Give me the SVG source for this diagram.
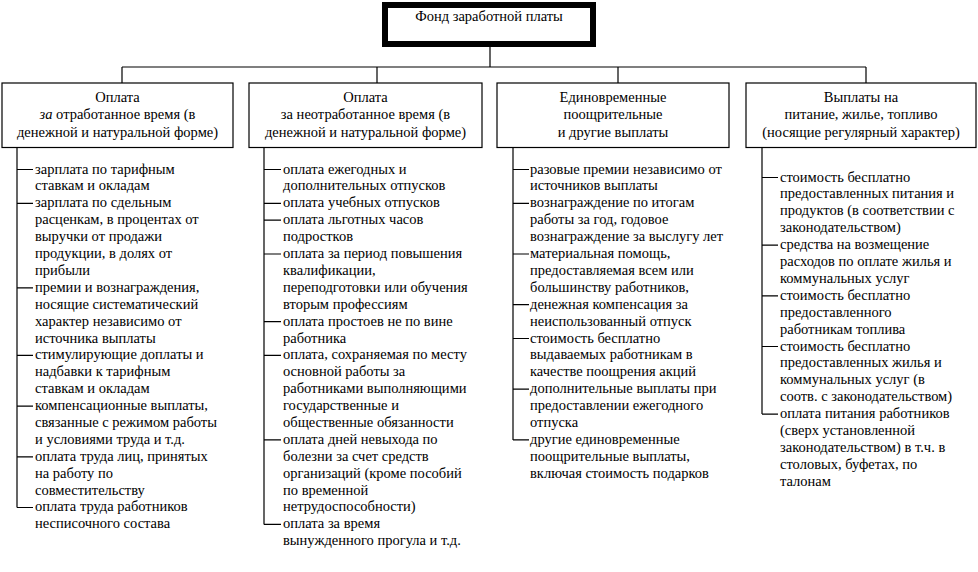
<svg xmlns="http://www.w3.org/2000/svg" width="978" height="572" viewBox="0 0 978 572">
<style>
.bg{fill:#ffffff}
.box{fill:#ffffff;stroke:#000000;stroke-width:1.2}
.top{fill:#ffffff;stroke:#000000;stroke-width:6}
.ln{fill:none;stroke:#000000;stroke-width:1.2}
.t{font-family:"Liberation Serif","Times New Roman",serif;font-size:14.5px;fill:#000000}
.c{text-anchor:middle}
</style>
<rect class="bg" x="0" y="0" width="978" height="572"/>
<g id="connectors">
<path class="ln" d="M490,47 V67 M122,67 H866 M122,67 V83 M377,67 V83 M618,67 V83 M866,67 V83"/>
<path class="ln" d="M17,147.5 V507.5 M17,169.5 H33 M17,203.3 H33 M17,287.8 H33 M17,355.4 H33 M17,406.1 H33 M17,456.8 H33 M17,507.5 H33"/>
<path class="ln" d="M264,147.5 V524.4 M264,169.5 H281 M264,203.3 H281 M264,220.2 H281 M264,254 H281 M264,321.6 H281 M264,355.4 H281 M264,439.9 H281 M264,524.4 H281"/>
<path class="ln" d="M513,147.5 V439.9 M513,169.5 H529 M513,203.3 H529 M513,254 H529 M513,304.7 H529 M513,338.5 H529 M513,389.2 H529 M513,439.9 H529"/>
<path class="ln" d="M762,147.5 V414.1 M762,177.5 H778 M762,245.1 H778 M762,295.8 H778 M762,346.5 H778 M762,414.1 H778"/>
</g>
<g id="root">
<rect class="top" x="385" y="5" width="208" height="39"/>
<text class="t c" x="489" y="21">Фонд заработной платы</text>
</g>
<g id="h1">
<rect class="box" x="2" y="83" width="231" height="64.5"/>
<text class="t c" x="117.5" y="101.5">Оплата</text>
<text class="t c" x="117.5" y="119"><tspan font-style="italic">за</tspan> отработанное время (в</text>
<text class="t c" x="117.5" y="136.5">денежной и натуральной форме)</text>
</g>
<g id="h2">
<rect class="box" x="249" y="83" width="233" height="64.5"/>
<text class="t c" x="365.5" y="101.5">Оплата</text>
<text class="t c" x="365.5" y="119">за неотработанное время (в</text>
<text class="t c" x="365.5" y="136.5">денежной и натуральной форме)</text>
</g>
<g id="h3">
<rect class="box" x="497" y="83" width="232" height="64.5"/>
<text class="t c" x="613" y="101.5">Единовременные</text>
<text class="t c" x="613" y="119">поощрительные</text>
<text class="t c" x="613" y="136.5">и другие выплаты</text>
</g>
<g id="h4">
<rect class="box" x="746" y="83" width="230" height="64.5"/>
<text class="t c" x="861" y="101.5">Выплаты на</text>
<text class="t c" x="861" y="119">питание, жилье, топливо</text>
<text class="t c" x="861" y="136.5">(носящие регулярный характер)</text>
</g>
<g id="list1">
<text class="t" y="173.5"><tspan x="35">зарплата по тарифным</tspan><tspan x="35" dy="16.9">ставкам и окладам</tspan><tspan x="35" dy="16.9">зарплата по сдельным</tspan><tspan x="35" dy="16.9">расценкам, в процентах от</tspan><tspan x="35" dy="16.9">выручки от продажи</tspan><tspan x="35" dy="16.9">продукции, в долях от</tspan><tspan x="35" dy="16.9">прибыли</tspan><tspan x="35" dy="16.9">премии и вознаграждения,</tspan><tspan x="35" dy="16.9">носящие систематический</tspan><tspan x="35" dy="16.9">характер независимо от</tspan><tspan x="35" dy="16.9">источника выплаты</tspan><tspan x="35" dy="16.9">стимулирующие доплаты и</tspan><tspan x="35" dy="16.9">надбавки к тарифным</tspan><tspan x="35" dy="16.9">ставкам и окладам</tspan><tspan x="35" dy="16.9">компенсационные выплаты,</tspan><tspan x="35" dy="16.9">связанные с режимом работы</tspan><tspan x="35" dy="16.9">и условиями труда и т.д.</tspan><tspan x="35" dy="16.9">оплата труда лиц, принятых</tspan><tspan x="35" dy="16.9">на работу по</tspan><tspan x="35" dy="16.9">совместительству</tspan><tspan x="35" dy="16.9">оплата труда работников</tspan><tspan x="35" dy="16.9">несписочного состава</tspan></text>
</g>
<g id="list2">
<text class="t" y="173.5"><tspan x="283">оплата ежегодных и</tspan><tspan x="283" dy="16.9">дополнительных отпусков</tspan><tspan x="283" dy="16.9">оплата учебных отпусков</tspan><tspan x="283" dy="16.9">оплата льготных часов</tspan><tspan x="283" dy="16.9">подростков</tspan><tspan x="283" dy="16.9">оплата за период повышения</tspan><tspan x="283" dy="16.9">квалификации,</tspan><tspan x="283" dy="16.9">переподготовки или обучения</tspan><tspan x="283" dy="16.9">вторым профессиям</tspan><tspan x="283" dy="16.9">оплата простоев не по вине</tspan><tspan x="283" dy="16.9">работника</tspan><tspan x="283" dy="16.9">оплата, сохраняемая по месту</tspan><tspan x="283" dy="16.9">основной работы за</tspan><tspan x="283" dy="16.9">работниками выполняющими</tspan><tspan x="283" dy="16.9">государственные и</tspan><tspan x="283" dy="16.9">общественные обязанности</tspan><tspan x="283" dy="16.9">оплата дней невыхода по</tspan><tspan x="283" dy="16.9">болезни за счет средств</tspan><tspan x="283" dy="16.9">организаций (кроме пособий</tspan><tspan x="283" dy="16.9">по временной</tspan><tspan x="283" dy="16.9">нетрудоспособности)</tspan><tspan x="283" dy="16.9">оплата за время</tspan><tspan x="283" dy="16.9">вынужденного прогула и т.д.</tspan></text>
</g>
<g id="list3">
<text class="t" y="173.5"><tspan x="530">разовые премии независимо от</tspan><tspan x="530" dy="16.9">источников выплаты</tspan><tspan x="530" dy="16.9">вознаграждение по итогам</tspan><tspan x="530" dy="16.9">работы за год, годовое</tspan><tspan x="530" dy="16.9">вознаграждение за выслугу лет</tspan><tspan x="530" dy="16.9">материальная помощь,</tspan><tspan x="530" dy="16.9">предоставляемая всем или</tspan><tspan x="530" dy="16.9">большинству работников,</tspan><tspan x="530" dy="16.9">денежная компенсация за</tspan><tspan x="530" dy="16.9">неиспользованный отпуск</tspan><tspan x="530" dy="16.9">стоимость бесплатно</tspan><tspan x="530" dy="16.9">выдаваемых работникам в</tspan><tspan x="530" dy="16.9">качестве поощрения акций</tspan><tspan x="530" dy="16.9">дополнительные выплаты при</tspan><tspan x="530" dy="16.9">предоставлении ежегодного</tspan><tspan x="530" dy="16.9">отпуска</tspan><tspan x="530" dy="16.9">другие единовременные</tspan><tspan x="530" dy="16.9">поощрительные выплаты,</tspan><tspan x="530" dy="16.9">включая стоимость подарков</tspan></text>
</g>
<g id="list4">
<text class="t" y="181.5"><tspan x="780">стоимость бесплатно</tspan><tspan x="780" dy="16.9">предоставленных питания и</tspan><tspan x="780" dy="16.9">продуктов (в соответствии с</tspan><tspan x="780" dy="16.9">законодательством)</tspan><tspan x="780" dy="16.9">средства на возмещение</tspan><tspan x="780" dy="16.9">расходов по оплате жилья и</tspan><tspan x="780" dy="16.9">коммунальных услуг</tspan><tspan x="780" dy="16.9">стоимость бесплатно</tspan><tspan x="780" dy="16.9">предоставленного</tspan><tspan x="780" dy="16.9">работникам топлива</tspan><tspan x="780" dy="16.9">стоимость бесплатно</tspan><tspan x="780" dy="16.9">предоставленных жилья и</tspan><tspan x="780" dy="16.9">коммунальных услуг (в</tspan><tspan x="780" dy="16.9">соотв. с законодательством)</tspan><tspan x="780" dy="16.9">оплата питания работников</tspan><tspan x="780" dy="16.9">(сверх установленной</tspan><tspan x="780" dy="16.9">законодательством) в т.ч. в</tspan><tspan x="780" dy="16.9">столовых, буфетах, по</tspan><tspan x="780" dy="16.9">талонам</tspan></text>
</g>
</svg>
